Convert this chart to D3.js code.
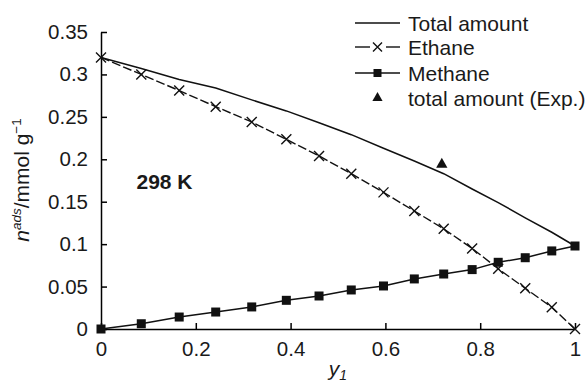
<!DOCTYPE html>
<html>
<head>
<meta charset="utf-8">
<script src="https://cdn.jsdelivr.net/npm/d3@7"></script>
<style>
  html, body { margin: 0; padding: 0; background: #fff; }
  svg { display: block; font-family: "Liberation Sans", Arial, Helvetica, sans-serif; }
</style>
</head>
<body>
<svg id="chart" width="588" height="386"></svg>
<script>
// Mole fraction of methane in the gas phase
const y1 = [0, 0.085, 0.165, 0.242, 0.318, 0.391, 0.46, 0.528, 0.596, 0.661, 0.723, 0.783, 0.838, 0.895, 0.951, 1.0];
// Adsorbed amounts (mmol/g)
const ethane  = [0.320, 0.300, 0.281, 0.262, 0.244, 0.2235, 0.204, 0.183, 0.161, 0.139, 0.118, 0.095, 0.071, 0.048, 0.0256, 0.0];
const methane = [0.0, 0.0062, 0.0141, 0.020, 0.026, 0.0338, 0.0389, 0.046, 0.0507, 0.059, 0.0648, 0.070, 0.0786, 0.084, 0.092, 0.0978];
const total   = [0.320, 0.307, 0.294, 0.284, 0.270, 0.257, 0.243, 0.229, 0.213, 0.198, 0.183, 0.165, 0.149, 0.131, 0.114, 0.0978];
// Experimental total amount
const expX = [0.719];
const expY = [0.194];

const xTicks = [0, 0.2, 0.4, 0.6, 0.8, 1];
const xTickLabels = ["0", "0.2", "0.4", "0.6", "0.8", "1"];
const yTicks = [0, 0.05, 0.1, 0.15, 0.2, 0.25, 0.3, 0.35];
const yTickLabels = ["0", "0.05", "0.1", "0.15", "0.2", "0.25", "0.3", "0.35"];

const svg = d3.select("#chart");
const fs = 20.5;
const ink = "#1a1a1a";

const x = d3.scaleLinear().domain([0, 1]).range([101, 575]);
const y = d3.scaleLinear().domain([0, 0.35]).range([329, 32]);

// Axes with inward ticks
const xAxis = d3.axisBottom(x).tickValues(xTicks)
  .tickFormat((d, i) => xTickLabels[i]).tickSizeInner(-6).tickSizeOuter(0).tickPadding(12);
const yAxis = d3.axisLeft(y).tickValues(yTicks)
  .tickFormat((d, i) => yTickLabels[i]).tickSizeInner(-6).tickSizeOuter(0).tickPadding(13);

const gx = svg.append("g").attr("transform", "translate(0,329)").call(xAxis);
const gy = svg.append("g").attr("transform", "translate(101,0)").call(yAxis);
[gx, gy].forEach(g => {
  g.select(".domain").attr("stroke", "#000").attr("stroke-width", 1.5);
  g.selectAll(".tick line").attr("stroke", "#000").attr("stroke-width", 1.5);
  g.selectAll(".tick text").attr("fill", ink).style("font-size", fs + "px")
    .style("font-family", "'Liberation Sans', Arial, sans-serif");
});

const line = d3.line().x(d => x(d[0])).y(d => y(d[1]));
const seriesPts = arr => y1.map((v, i) => [v, arr[i]]);

// Total amount (solid)
svg.append("path").datum(seriesPts(total)).attr("d", line)
  .attr("fill", "none").attr("stroke", "#111").attr("stroke-width", 1.5);

// Ethane (dashed with crosses)
svg.append("path").datum(seriesPts(ethane)).attr("d", line)
  .attr("fill", "none").attr("stroke", "#111").attr("stroke-width", 1.4)
  .attr("stroke-dasharray", "9,3");

const cross = (g, cx, cy, r) => {
  g.append("path")
    .attr("d", `M${cx - r},${cy - r}L${cx + r},${cy + r}M${cx - r},${cy + r}L${cx + r},${cy - r}`)
    .attr("stroke", "#111").attr("stroke-width", 1.4).attr("fill", "none");
};
const ethG = svg.append("g");
seriesPts(ethane).forEach(d => cross(ethG, x(d[0]), y(d[1]), 5));

// Methane (solid with squares)
svg.append("path").datum(seriesPts(methane)).attr("d", line)
  .attr("fill", "none").attr("stroke", "#111").attr("stroke-width", 1.5);
svg.append("g").selectAll("rect").data(seriesPts(methane)).join("rect")
  .attr("x", d => x(d[0]) - 4.5).attr("y", d => y(d[1]) - 4.5)
  .attr("width", 9).attr("height", 9).attr("fill", "#111");

// Experimental point (triangle)
const tri = d3.symbol().type(d3.symbolTriangle).size(55);
svg.append("g").selectAll("path").data(expX.map((v, i) => [v, expY[i]])).join("path")
  .attr("d", tri).attr("transform", d => `translate(${x(d[0])},${y(d[1])})`).attr("fill", "#111");

// Temperature annotation
svg.append("text").attr("x", 136.5).attr("y", 188.5).attr("font-weight", "bold")
  .style("font-size", "21px").attr("fill", ink).text("298 K");

// Legend
const lg = svg.append("g");
const lx0 = 355, lx1 = 400, lmid = 377.5, ltx = 408;
const rows = [23, 47, 73, 98];
const labels = ["Total amount", "Ethane", "Methane", "total amount (Exp.)"];
lg.append("line").attr("x1", lx0).attr("x2", lx1).attr("y1", rows[0]).attr("y2", rows[0])
  .attr("stroke", "#111").attr("stroke-width", 1.5);
lg.append("line").attr("x1", lx0).attr("x2", 370).attr("y1", rows[1]).attr("y2", rows[1])
  .attr("stroke", "#111").attr("stroke-width", 1.4);
lg.append("line").attr("x1", 386).attr("x2", lx1).attr("y1", rows[1]).attr("y2", rows[1])
  .attr("stroke", "#111").attr("stroke-width", 1.4);
cross(lg, lmid, rows[1], 4.5);
lg.append("line").attr("x1", lx0).attr("x2", lx1).attr("y1", rows[2]).attr("y2", rows[2])
  .attr("stroke", "#111").attr("stroke-width", 1.5);
lg.append("rect").attr("x", lmid - 4).attr("y", rows[2] - 4).attr("width", 8).attr("height", 8).attr("fill", "#111");
lg.append("path").attr("d", d3.symbol().type(d3.symbolTriangle).size(45))
  .attr("transform", `translate(${lmid},${rows[3]})`).attr("fill", "#111");
lg.selectAll("text.lab").data(labels).join("text").attr("class", "lab")
  .attr("x", ltx).attr("y", (d, i) => rows[i] + 7.5)
  .style("font-size", "21px").attr("fill", ink).text(d => d);

// Axis titles
const yl = svg.append("text").attr("transform", "translate(29,180) rotate(-90)")
  .attr("text-anchor", "middle").style("font-size", "21px").attr("fill", ink);
yl.append("tspan").attr("font-style", "italic").text("n");
yl.append("tspan").attr("font-style", "italic").attr("dy", -8).style("font-size", "13.5px").text("ads");
yl.append("tspan").attr("dy", 8).text("/mmol g");
yl.append("tspan").attr("dy", -8).style("font-size", "13.5px").text("\u22121");

const xl = svg.append("text").attr("x", 338).attr("y", 376).attr("text-anchor", "middle")
  .style("font-size", "21px").attr("fill", ink).attr("font-style", "italic");
xl.append("tspan").text("y");
xl.append("tspan").attr("dy", 4).style("font-size", "14px").text("1");
</script>
</body>
</html>
